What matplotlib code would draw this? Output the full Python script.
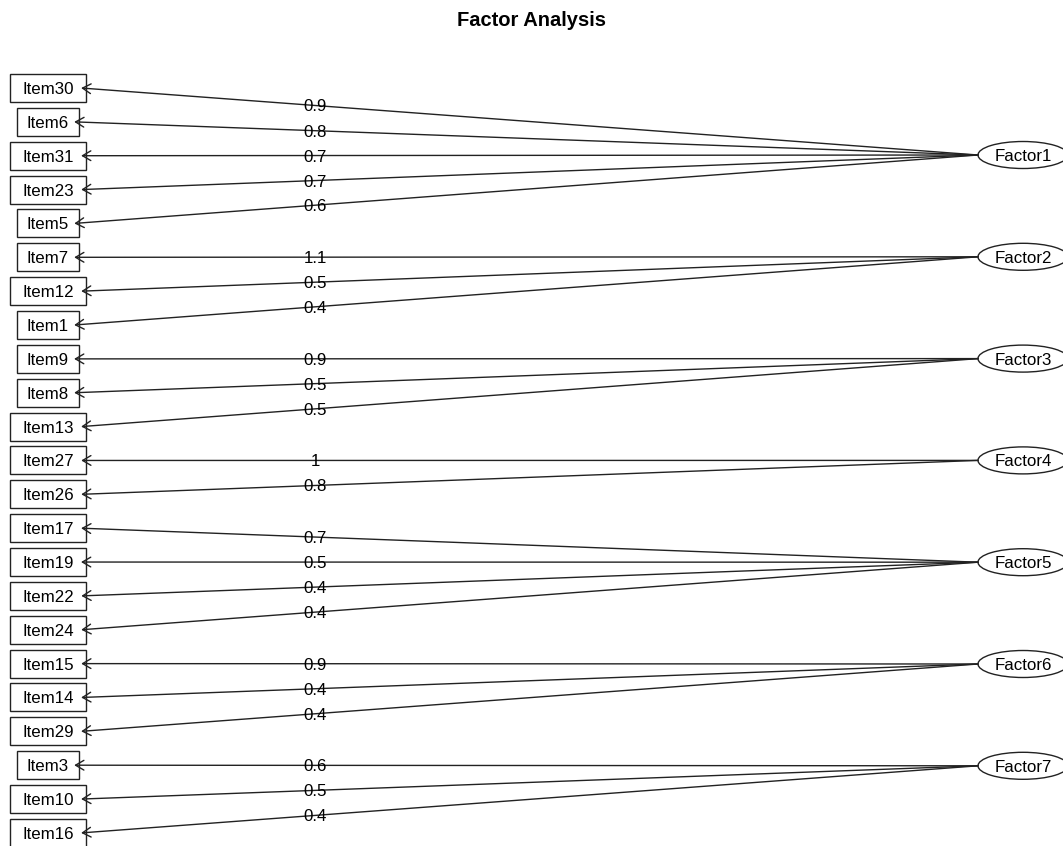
import matplotlib
matplotlib.use('Agg')
import matplotlib.pyplot as plt
from matplotlib.patches import Rectangle, Ellipse
import numpy as np

# datos: factores, items y cargas
factores = ['Factor1', 'Factor2', 'Factor3', 'Factor4', 'Factor5', 'Factor6', 'Factor7']
items_f1 = ['Item30', 'Item6', 'Item31', 'Item23', 'Item5']
cargas_f1 = [0.9, 0.8, 0.7, 0.7, 0.6]
items_f2 = ['Item7', 'Item12', 'Item1']
cargas_f2 = [1.1, 0.5, 0.4]
items_f3 = ['Item9', 'Item8', 'Item13']
cargas_f3 = [0.9, 0.5, 0.5]
items_f4 = ['Item27', 'Item26']
cargas_f4 = [1, 0.8]
items_f5 = ['Item17', 'Item19', 'Item22', 'Item24']
cargas_f5 = [0.7, 0.5, 0.4, 0.4]
items_f6 = ['Item15', 'Item14', 'Item29']
cargas_f6 = [0.9, 0.4, 0.4]
items_f7 = ['Item3', 'Item10', 'Item16']
cargas_f7 = [0.6, 0.5, 0.4]

grupos = [(items_f1, cargas_f1), (items_f2, cargas_f2), (items_f3, cargas_f3),
          (items_f4, cargas_f4), (items_f5, cargas_f5), (items_f6, cargas_f6),
          (items_f7, cargas_f7)]

# layout (pixeles)
W, H = 1063, 846
y_item0, dy_item = 88, 33.86
y_fac0, dy_fac = 155, 101.8
x_item = 48
x_fac = 1023
ancho_fac, alto_fac = 90, 27
alto_caja = 28
x_carga = 315
fs = 12.2

plt.rcParams['font.family'] = ['Liberation Sans', 'DejaVu Sans']

fig = plt.figure(figsize=(W / 100, H / 100), dpi=100)
ax = fig.add_axes([0, 0, 1, 1])
ax.set_xlim(0, W)
ax.set_ylim(H, 0)
ax.axis('off')
renderer = fig.canvas.get_renderer()

fig.text(0.5, 1 - 18 / H, 'Factor Analysis', ha='center', va='center_baseline',
         fontsize=14.5, fontweight='bold')

k = 0
for f, (items, cargas) in enumerate(grupos):
    yf = y_fac0 + f * dy_fac
    ax.add_patch(Ellipse((x_fac, yf), ancho_fac, alto_fac, fill=False, lw=1.0, ec='#222222'))
    ax.text(x_fac, yf, factores[f], ha='center', va='center_baseline', fontsize=fs)
    x_izq_fac = x_fac - ancho_fac / 2
    for nombre, c in zip(items, cargas):
        yi = y_item0 + k * dy_item
        t = ax.text(x_item, yi, nombre, ha='center', va='center_baseline', fontsize=fs)
        bb = t.get_window_extent(renderer=renderer)
        w = bb.width * 1.48
        ax.add_patch(Rectangle((x_item - w / 2, yi - alto_caja / 2), w, alto_caja,
                               fill=False, lw=1.0, ec='#222222'))
        x_punta = x_item + w / 2 - 5
        ax.annotate('', xy=(x_punta, yi), xytext=(x_izq_fac, yf),
                    arrowprops=dict(arrowstyle='->,head_length=0.6,head_width=0.35',
                                    lw=1.0, color='#222222', shrinkA=0, shrinkB=0))
        frac = (x_carga - x_punta) / (x_izq_fac - x_punta)
        yc = yi + frac * (yf - yi)
        ax.text(x_carga, yc, '%g' % c, ha='center', va='center_baseline', fontsize=fs)
        k += 1

fig.savefig('out.png', dpi=100, facecolor='white')
